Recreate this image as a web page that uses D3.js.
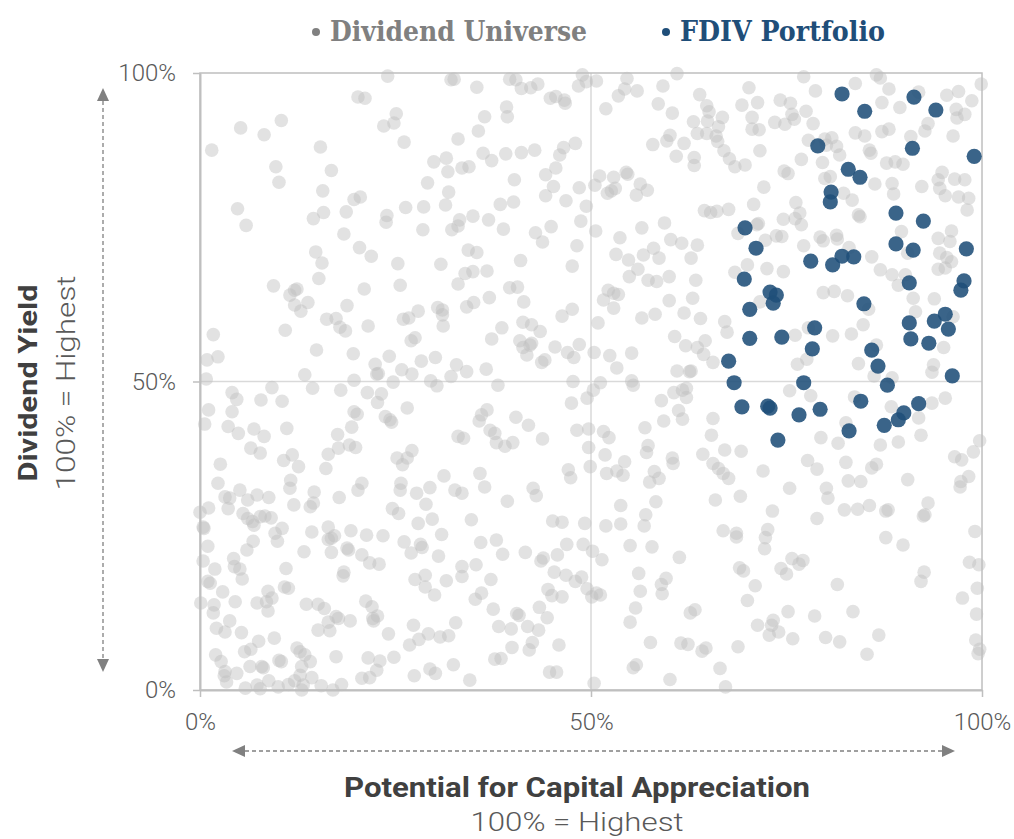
<!DOCTYPE html>
<html><head><meta charset="utf-8">
<script src="https://cdn.jsdelivr.net/npm/d3@7"></script>
<style>html,body{margin:0;padding:0;background:#fff;}</style>
</head><body><div id="chart"></div>
<script>
// ---- data (percentile scores, 0-100) ----
const legendLabels = ["Dividend Universe", "FDIV Portfolio"];
const xTitle = "Potential for Capital Appreciation";
const yTitle = "Dividend Yield";
const subTitle = "100% = Highest";
const tickValues = [0, 50, 100];

// FDIV Portfolio holdings [capital appreciation %, dividend yield %]
const fdiv = [[82.1,96.6],[91.3,96.1],[94.1,94.0],[85.0,93.8],[79.0,88.2],[91.1,87.8],[99.0,86.5],[82.9,84.4],[84.4,83.1],[80.7,80.7],[80.6,79.1],[89.0,77.3],[92.5,76.0],[69.7,74.9],[71.1,71.6],[78.1,69.5],[82.1,70.3],[83.6,70.2],[80.9,68.9],[89.0,72.3],[91.2,71.3],[98.0,71.5],[69.6,66.6],[72.9,64.5],[73.7,64.0],[73.3,62.7],[84.9,62.6],[90.7,66.0],[97.7,66.3],[97.3,64.8],[70.3,61.7],[95.3,60.9],[90.7,59.5],[93.9,59.8],[95.7,58.5],[78.6,58.7],[70.3,57.0],[74.4,57.2],[90.9,56.9],[93.2,56.2],[85.9,55.1],[67.6,53.3],[78.3,55.3],[86.7,52.5],[96.2,50.9],[68.3,49.8],[77.2,49.8],[87.9,49.4],[69.3,45.9],[72.6,46.0],[72.9,45.7],[76.6,44.6],[79.3,45.5],[84.5,46.8],[91.9,46.4],[90.0,44.9],[89.3,43.8],[87.5,42.9],[83.0,42.0],[73.9,40.5]];

// Dividend Universe [capital appreciation %, dividend yield %]
const universe = [
[24.0,99.5],[32.1,98.9],[32.5,99.0],[20.2,96.1],[21.1,95.9],[25.1,93.4],[23.5,91.4],[24.8,91.9],[10.4,92.3],[5.2,91.1],[8.2,90.0],[26.1,88.8],[33.0,89.3],[1.5,87.5],[15.4,88.0],[29.9,85.6],[31.5,86.2],[31.7,84.0],[33.5,84.6],[9.7,84.8],[16.8,84.2],[10.1,82.3],[29.1,82.2],[15.7,80.9],[31.8,80.7],[19.7,79.5],[20.5,79.9],[4.8,78.0],[26.3,78.2],[28.6,78.3],[31.4,78.6],[5.9,75.3],[14.5,76.4],[15.8,77.4],[18.7,77.5],[23.9,76.9],[23.8,75.8],[28.5,74.6],[32.2,74.6],[33.0,75.2],[33.2,76.2],[18.4,73.9],[14.8,71.0],[20.4,71.7],[21.9,70.3],[15.6,69.2],[25.3,69.1],[30.8,69.0],
[34.4,84.8],[34.3,71.3],[35.4,70.9],[33.9,67.5],[34.9,67.8],[36.7,67.9],[35.4,97.7],[39.6,99.0],[40.4,98.9],[41.1,97.5],[42.3,97.6],[43.2,98.2],[44.8,95.9],[45.5,96.2],[46.6,95.6],[46.7,95.1],[48.9,99.7],[48.4,97.9],[49.4,98.6],[50.7,98.7],[39.2,94.5],[39.3,92.9],[36.4,92.9],[35.6,90.6],[36.2,87.0],[37.3,85.8],[39.1,86.9],[41.1,87.1],[42.8,87.5],[46.5,87.9],[48.0,88.6],[46.0,86.7],[45.5,84.6],[44.2,83.5],[45.2,81.6],[44.2,80.1],[40.2,82.7],[38.4,78.7],[40.1,79.1],[48.5,81.4],[46.8,79.3],[49.4,78.4],[48.7,76.0],[34.9,76.8],[36.9,76.2],[38.8,74.7],[42.9,74.1],[43.8,72.6],[44.9,75.1],[48.2,72.0],[41.0,69.6],[47.6,68.7],
[54.6,99.1],[54.3,97.4],[53.5,96.3],[55.9,97.1],[61.0,99.9],[59.2,97.9],[51.9,94.2],[58.6,95.0],[60.4,93.5],[63.9,96.5],[64.8,94.7],[65.1,93.7],[64.9,92.2],[63.1,92.1],[63.6,90.2],[64.8,90.2],[66.0,89.8],[66.3,91.3],[66.8,92.8],[66.2,88.9],[67.0,87.4],[67.7,86.1],[57.9,88.4],[59.7,89.0],[60.1,89.9],[61.9,88.6],[60.9,86.5],[63.2,86.3],[63.2,85.0],[51.1,83.3],[50.5,81.8],[52.9,83.1],[54.5,83.9],[54.7,83.6],[52.1,80.5],[52.6,80.9],[53.1,81.3],[56.3,82.0],[57.2,81.0],[55.8,80.2],[50.6,74.4],[64.5,77.7],[65.3,77.4],[66.1,77.6],[67.6,77.9],[59.4,75.7],[56.5,74.9],[53.7,73.3],[60.2,73.0],[61.6,72.4],[63.6,72.1],[58.0,71.6],[58.7,70.0],[56.7,70.5],[54.8,69.7],[53.2,70.6],[62.8,70.0],[56.0,68.2],
[77.2,99.4],[86.5,99.7],[87.0,99.2],[83.8,98.3],[78.7,97.1],[70.2,97.6],[88.1,97.4],[91.9,96.9],[95.5,96.4],[97.0,97.0],[99.9,98.2],[98.7,95.5],[69.3,94.8],[71.3,95.2],[74.2,95.6],[75.5,95.1],[75.7,93.3],[76.0,92.5],[74.8,91.7],[73.5,92.0],[77.5,93.8],[78.4,91.8],[70.6,92.8],[70.6,90.9],[71.5,90.8],[87.2,95.2],[89.5,94.4],[96.7,94.1],[97.8,93.3],[96.8,92.7],[93.1,91.8],[92.7,90.6],[87.2,90.5],[88.1,90.9],[83.8,90.3],[85.0,89.8],[96.3,89.8],[90.9,89.7],[77.8,89.1],[79.9,89.3],[80.8,89.5],[81.4,88.1],[81.8,86.7],[80.1,88.3],[71.6,87.4],[68.4,84.8],[69.7,85.1],[76.9,86.0],[79.6,85.5],[85.6,87.5],[85.8,87.0],[87.8,85.4],[88.9,85.6],[89.9,85.2],[74.7,84.1],[75.2,83.7],[79.9,82.9],[80.6,83.2],[86.3,82.0],[88.5,82.1],[88.7,80.4],[92.3,81.6],[94.4,82.7],[94.9,83.9],[94.6,81.3],[95.3,80.1],[96.5,82.8],[97.8,82.7],[97.0,79.9],[98.3,79.7],[98.1,77.8],[72.1,81.5],[70.8,78.7],[76.2,79.0],[76.7,77.3],[76.1,76.4],[76.9,75.4],[74.6,76.3],[82.3,80.5],[83.4,79.4],[84.2,77.0],[84.4,76.7],[71.4,75.6],[71.2,75.4],[68.8,74.0],[73.7,73.6],[74.4,73.5],[72.3,72.9],[77.2,72.0],[79.3,73.4],[79.7,72.8],[81.4,73.7],[81.5,73.1],[83.0,71.7],[85.9,70.2],[89.7,74.3],[94.4,73.2],[96.1,74.4],[95.9,72.7],[94.6,70.8],[95.5,70.1],[96.1,69.4],[95.3,68.4],[94.4,68.2],[90.5,70.8],[70.0,68.9],[68.4,67.7],[72.5,68.3],[74.6,67.8],[87.0,68.1],[88.5,67.3],[90.2,67.3],
[9.4,65.5],[15.2,66.7],[11.5,64.0],[12.1,64.8],[12.4,65.0],[12.1,62.4],[12.9,61.4],[13.8,62.8],[18.8,62.3],[21.0,65.0],[25.6,65.6],[33.0,65.8],[16.2,60.1],[17.4,60.2],[17.9,58.8],[18.6,58.2],[21.5,59.0],[10.9,58.3],[1.7,57.6],[26.0,60.1],[26.7,60.3],[27.9,61.4],[30.4,62.0],[31.0,61.6],[31.0,60.8],[31.1,59.0],[27.0,56.6],[27.5,57.1],[0.9,53.5],[2.3,54.0],[14.9,55.1],[19.6,54.5],[22.4,52.8],[22.6,51.2],[22.8,51.3],[24.2,54.1],[25.8,51.9],[27.1,51.2],[28.3,53.3],[30.1,53.9],[32.8,52.7],[0.8,50.4],[13.4,51.1],[19.7,50.2],[24.7,49.9],[29.5,50.1],[30.3,49.3],[32.1,50.8],[4.1,48.2],[4.7,47.1],[9.2,49.0],[14.4,48.9],[18.0,48.6],[21.4,48.2],[22.7,46.6],[23.2,48.0],[7.8,47.0],[10.5,46.8],[1.1,45.4],[4.1,45.1],[0.6,43.1],[19.7,45.1],[20.1,44.7],[23.7,44.3],[24.3,43.8],[24.5,43.4],[26.5,45.7],[3.6,42.7],[4.9,41.6],[6.9,42.3],[8.2,41.1],[11.1,42.4],[19.4,42.6],[17.6,41.4],[33.0,41.1],[33.7,40.8],[6.5,39.2],[7.7,38.4],[16.4,38.2],[17.7,39.2],[19.1,39.7],[19.9,39.3],[11.8,38.1],[10.7,37.2],[12.6,36.2],[27.1,38.8],[26.5,37.6],[25.2,37.6],[25.9,36.5],[2.6,36.6],[16.1,35.9],[31.2,34.7],[2.3,33.5],[11.6,34.0],[20.7,33.5],[25.7,33.5],
[35.0,62.8],[34.1,62.1],[37.0,63.6],[39.6,65.2],[40.6,65.3],[41.4,62.9],[38.6,58.7],[37.3,56.9],[41.3,59.6],[42.4,59.2],[43.5,58.1],[40.9,56.6],[41.3,55.5],[41.8,54.3],[42.2,55.9],[42.4,56.2],[43.7,53.1],[44.1,53.5],[45.4,55.6],[46.3,60.6],[47.6,61.7],[47.0,54.7],[47.8,53.9],[48.5,56.0],[34.1,51.6],[36.6,52.0],[38.1,49.4],[47.7,50.0],[49.5,47.3],[50.3,48.6],[51.2,49.8],[47.5,46.5],[50.9,59.5],[50.4,54.7],[51.6,63.2],[52.2,64.8],[52.9,64.3],[53.5,64.1],[52.9,61.9],[54.9,67.0],[57.3,66.4],[58.4,66.2],[60.0,67.0],[63.4,66.4],[56.5,60.3],[58.2,60.9],[60.0,63.1],[63.0,63.5],[61.9,61.1],[64.0,60.2],[67.1,59.7],[67.4,58.0],[60.7,57.3],[62.1,55.8],[63.6,55.5],[64.6,56.6],[64.4,54.4],[65.6,53.1],[52.4,54.2],[53.3,52.2],[55.2,54.6],[61.0,51.7],[62.6,51.6],[62.8,51.7],[55.2,50.1],[55.4,49.4],[60.6,48.2],[61.7,48.6],[62.2,48.9],[62.2,47.4],[59.0,46.9],[61.2,45.3],[61.7,43.9],[59.3,43.6],[36.7,45.4],[36.0,44.6],[35.7,43.6],[40.4,44.2],[42.0,42.9],[37.1,42.1],[37.7,41.6],[37.9,40.1],[39.0,39.5],[40.0,40.1],[43.8,40.7],[48.2,42.1],[49.7,42.3],[51.6,41.9],[52.3,40.9],[56.9,42.5],[57.3,39.6],[57.1,38.5],[60.4,37.6],[60.5,36.7],[65.6,44.0],[65.4,41.3],[67.1,38.9],[64.3,38.2],[49.7,39.3],[51.8,38.1],[54.3,37.0],[53.3,35.5],[54.1,34.8],[52.0,35.1],[49.9,36.2],[47.1,35.7],[47.4,34.4],[35.8,35.1],[58.1,35.4],[58.7,34.3],[57.5,33.7],[65.6,36.7],[66.3,35.9],[66.9,35.1],[67.6,34.3],
[71.6,62.9],[89.3,65.6],[91.2,63.5],[91.5,61.3],[93.9,63.4],[96.3,60.5],[79.7,64.4],[81.1,64.6],[82.8,63.9],[85.5,61.7],[84.8,59.2],[83.3,57.7],[80.9,57.4],[77.8,58.7],[76.1,57.5],[76.4,52.8],[77.6,53.6],[84.2,52.9],[86.5,55.9],[86.2,50.9],[88.5,50.6],[93.8,52.7],[93.6,51.5],[95.1,55.5],[75.4,48.5],[78.1,47.7],[83.7,47.5],[88.4,45.9],[91.9,44.1],[93.6,46.5],[95.3,47.3],[82.6,43.3],[79.4,40.9],[81.6,40.0],[87.0,39.7],[89.3,40.2],[92.2,41.3],[69.2,38.7],[77.7,37.2],[78.9,35.8],[82.6,36.9],[85.9,36.0],[86.5,36.6],[72.0,35.5],[82.9,33.9],[84.5,33.8],[90.5,34.1],[96.5,37.8],[97.4,37.3],[98.9,38.6],[99.7,40.4],[98.3,34.6],[97.3,33.8],[97.2,32.9],[75.4,32.7],[80.1,32.7],
[5.1,32.4],[11.5,32.7],[14.6,32.1],[14.5,30.3],[14.1,29.7],[20.2,32.4],[25.6,32.4],[27.7,31.9],[29.4,32.8],[32.6,32.4],[33.5,31.9],[3.2,31.3],[3.8,31.1],[6.1,30.8],[7.3,31.6],[8.8,31.2],[1.1,29.5],[0.0,28.8],[3.6,29.4],[12.0,30.0],[17.8,31.2],[24.6,29.4],[25.4,28.6],[28.9,30.1],[5.5,28.6],[6.1,27.8],[6.7,27.3],[6.9,26.7],[7.7,28.1],[8.3,28.2],[9.1,27.9],[29.7,27.7],[27.9,27.0],[0.4,26.4],[0.5,26.2],[10.5,26.2],[9.6,25.4],[9.9,24.1],[16.4,26.4],[16.8,24.6],[17.2,25.0],[16.4,24.4],[14.3,25.6],[19.3,25.8],[21.3,25.1],[23.4,25.0],[26.1,24.0],[27.0,22.2],[28.2,23.6],[28.4,23.1],[30.9,25.2],[30.5,21.7],[1.0,23.3],[6.8,24.1],[6.0,22.7],[13.3,22.4],[16.8,22.3],[18.8,23.0],[19.0,22.7],[20.7,21.9],[21.7,20.6],[22.9,20.4],[0.4,20.9],[4.3,21.3],[4.4,20.0],[5.1,19.6],[5.4,18.0],[1.9,19.6],[11.0,19.7],[18.4,19.1],[18.3,18.5],[1.0,17.6],[1.3,17.3],[2.9,15.9],[10.8,16.7],[11.3,16.5],[27.5,17.9],[28.8,18.6],[28.8,16.7],[30.0,15.4],[31.5,17.7],[33.5,20.0],[33.5,18.4],[8.7,16.0],[9.2,14.9],[8.5,14.3],[8.7,12.8],[7.3,14.1],[4.5,14.3],[0.1,14.1],[1.8,13.8],[1.7,12.5],[13.6,13.9],[15.1,13.9],[15.9,13.2],[21.2,14.4],[22.0,13.5],[22.7,12.0],[22.2,11.2],[22.1,11.6],[17.4,11.9],[17.7,11.6],[16.4,11.0],[16.6,9.6],[15.1,9.7],[19.2,11.2],[3.8,11.2],[2.1,10.0],[3.2,9.4],[5.3,9.3],[24.1,9.1],[27.3,10.5],[32.7,10.9],[29.2,9.1],[30.7,8.6],[31.8,8.8],[26.8,7.3],[28.0,8.2],[9.5,8.4],[7.5,7.9],[5.7,6.2],[6.5,6.6],[6.4,3.8],[7.9,3.8],[8.1,3.6],[10.1,4.8],[10.4,4.6],[2.0,5.7],[2.7,4.6],[3.2,3.0],[3.4,1.3],[3.1,2.3],[4.7,2.7],[12.4,6.8],[12.8,6.2],[13.4,5.7],[14.1,4.6],[13.0,3.8],[12.8,2.4],[12.1,1.5],[14.3,2.0],[13.2,0.8],[13.0,0.0],[17.4,5.4],[21.5,5.2],[23.0,4.7],[22.6,3.2],[21.7,2.0],[20.7,1.9],[24.8,5.3],[27.4,2.3],[29.4,3.4],[30.1,2.7],[32.4,4.1],[5.8,0.3],[7.3,0.8],[7.7,0.2],[8.8,1.5],[10.0,0.5],[11.3,0.9],[15.5,0.7],[17.0,0.0],[18.1,0.9],
[36.4,32.9],[42.6,32.7],[43.0,31.5],[39.3,30.6],[34.7,27.6],[45.1,27.4],[46.3,27.2],[49.2,27.0],[35.9,23.9],[37.9,24.3],[38.7,22.0],[41.6,22.3],[43.6,20.9],[43.9,21.4],[45.7,21.9],[46.9,23.6],[49.0,23.6],[50.2,22.5],[51.4,21.1],[35.3,20.3],[37.2,17.9],[45.3,19.1],[46.8,18.6],[48.0,17.6],[48.8,18.3],[44.5,16.3],[45.0,15.3],[46.3,15.1],[49.5,16.4],[50.1,15.1],[51.2,15.4],[50.7,15.7],[36.0,15.7],[35.2,14.7],[37.5,13.1],[40.5,12.4],[40.8,12.1],[43.4,13.4],[44.4,11.7],[38.2,10.3],[39.8,9.9],[41.9,10.3],[43.3,9.7],[42.5,7.7],[42.1,6.5],[39.9,6.9],[45.9,7.3],[37.7,5.0],[38.5,5.1],[34.5,1.6],[44.7,2.9],[45.6,2.9],[50.4,1.1],[51.9,26.6],[53.8,26.9],[53.8,29.9],[56.8,26.6],[57.0,28.4],[58.3,30.5],[55.0,23.4],[57.8,23.2],[61.3,21.5],[56.1,18.9],[56.3,16.0],[55.7,13.3],[55.0,11.0],[59.0,17.1],[59.6,18.1],[59.1,15.6],[62.7,12.5],[63.3,13.0],[57.6,7.7],[61.5,7.6],[62.4,7.4],[64.2,6.3],[64.7,6.8],[55.4,3.6],[55.8,4.1],[60.1,1.7],[65.9,30.8],[66.9,25.8],[66.5,3.5],[67.2,0.5],
[69.1,31.4],[80.3,31.1],[73.2,29.0],[78.9,27.8],[82.4,29.2],[84.1,29.3],[85.6,29.9],[87.7,29.0],[88.0,29.2],[92.5,28.2],[92.7,28.4],[93.1,30.3],[68.6,25.4],[68.6,24.8],[72.6,26.0],[72.3,24.7],[72.2,22.9],[87.7,24.7],[89.9,23.5],[99.1,25.7],[69.0,19.8],[69.5,19.3],[74.3,19.7],[75.0,18.8],[75.7,21.3],[76.6,20.4],[77.1,21.0],[71.0,16.9],[70.0,14.5],[81.5,17.1],[92.6,19.1],[92.2,17.6],[98.4,20.7],[99.6,20.3],[99.4,16.5],[97.5,14.9],[99.3,12.3],[75.2,12.7],[78.6,12.0],[83.5,12.7],[71.3,10.5],[73.3,11.3],[73.1,10.5],[72.8,8.9],[74.0,9.4],[75.8,8.3],[80.0,8.5],[81.8,7.8],[86.8,8.9],[68.8,7.0],[85.3,5.8],[99.2,8.1],[99.7,6.6],[99.5,5.9]
];

// ---- layout ----
const W = 1014, H = 839;
const plot = {left: 200, right: 982, top: 73, bottom: 690};
const grayFill = "#bfbfbf", blueFill = "#1F4E79";
const axisGray = "#bfbfbf", textGray = "#595959", arrowGray = "#808080";

const svg = d3.select("#chart").append("svg").attr("width", W).attr("height", H)
  .style("font-family", "Roboto, 'Liberation Sans', sans-serif");

const x = d3.scaleLinear().domain([0, 100]).range([plot.left, plot.right]);
const y = d3.scaleLinear().domain([0, 100]).range([plot.bottom, plot.top]);

// gridlines at 50%
svg.append("line").attr("x1", x(50)).attr("x2", x(50)).attr("y1", y(0)).attr("y2", y(100))
  .attr("stroke", "#d9d9d9").attr("stroke-width", 1.5);
svg.append("line").attr("x1", x(0)).attr("x2", x(100)).attr("y1", y(50)).attr("y2", y(50))
  .attr("stroke", "#d9d9d9").attr("stroke-width", 1.5);

// frame
svg.append("rect").attr("x", x(0)).attr("y", y(100)).attr("width", x(100) - x(0)).attr("height", y(0) - y(100))
  .attr("fill", "none").attr("stroke", axisGray).attr("stroke-width", 1.5);

// axes
const fmt = d => d + "%";
const yAxis = svg.append("g").attr("transform", `translate(${x(0)},0)`)
  .call(d3.axisLeft(y).tickValues(tickValues).tickFormat(fmt).tickSize(7).tickSizeOuter(0).tickPadding(17));
const xAxis = svg.append("g").attr("transform", `translate(0,${y(0)})`)
  .call(d3.axisBottom(x).tickValues(tickValues).tickFormat(fmt).tickSize(7).tickSizeOuter(0).tickPadding(16));
[xAxis, yAxis].forEach(g => {
  g.select(".domain").attr("stroke", axisGray).attr("stroke-width", 2);
  g.selectAll(".tick line").attr("stroke", axisGray).attr("stroke-width", 1.5);
  g.selectAll(".tick text").attr("fill", textGray).style("font-size", "24px").style("font-weight", 300)
    .style("font-family", "Roboto, sans-serif");
});

// universe dots
svg.append("g").selectAll("circle").data(universe).join("circle")
  .attr("cx", d => x(d[0])).attr("cy", d => y(d[1])).attr("r", 6.8)
  .attr("fill", grayFill).attr("fill-opacity", 0.45);

// FDIV dots
svg.append("g").selectAll("circle").data(fdiv).join("circle")
  .attr("cx", d => x(d[0])).attr("cy", d => y(d[1])).attr("r", 7.6)
  .attr("fill", blueFill).attr("fill-opacity", 0.88);

// legend
const legend = svg.append("g");
const legItems = [
  {label: legendLabels[0], color: "#808080", dotX: 316, textX: 330, len: 257},
  {label: legendLabels[1], color: blueFill, dotX: 666, textX: 680, len: 205}
];
legItems.forEach(it => {
  legend.append("circle").attr("cx", it.dotX).attr("cy", 32).attr("r", 4).attr("fill", it.color);
  legend.append("text").attr("x", it.textX).attr("y", 41).text(it.label)
    .attr("fill", it.color).style("font-family", "'DejaVu Serif', 'Liberation Serif', serif")
    .style("font-stretch", "condensed").style("font-weight", 700).style("font-size", "28px")
    .attr("textLength", it.len).attr("lengthAdjust", "spacingAndGlyphs");
});

// dashed arrows
function arrow(x1, y1, x2, y2) {
  const g = svg.append("g");
  const horiz = y1 === y2;
  const hl = 13, hw = 6;
  if (horiz) {
    g.append("line").attr("x1", x1 + hl).attr("x2", x2 - hl).attr("y1", y1).attr("y2", y2)
      .attr("stroke", arrowGray).attr("stroke-width", 1.3).attr("stroke-dasharray", "4,3");
    g.append("path").attr("d", `M${x1},${y1}L${x1 + hl},${y1 - hw}L${x1 + hl},${y1 + hw}Z`).attr("fill", arrowGray);
    g.append("path").attr("d", `M${x2},${y2}L${x2 - hl},${y2 - hw}L${x2 - hl},${y2 + hw}Z`).attr("fill", arrowGray);
  } else {
    g.append("line").attr("x1", x1).attr("x2", x2).attr("y1", y1 + hl).attr("y2", y2 - hl)
      .attr("stroke", arrowGray).attr("stroke-width", 1.3).attr("stroke-dasharray", "4,3");
    g.append("path").attr("d", `M${x1},${y1}L${x1 - hw},${y1 + hl}L${x1 + hw},${y1 + hl}Z`).attr("fill", arrowGray);
    g.append("path").attr("d", `M${x2},${y2}L${x2 - hw},${y2 - hl}L${x2 + hw},${y2 - hl}Z`).attr("fill", arrowGray);
  }
}
arrow(232, 751, 955, 751);
arrow(103, 88, 103, 672);

// axis titles
const xc = (plot.left + plot.right) / 2 - 14;
svg.append("text").attr("x", xc).attr("y", 797).attr("text-anchor", "middle").text(xTitle)
  .attr("fill", "#404040").style("font-weight", 700).style("font-size", "27px")
  .attr("textLength", 466).attr("lengthAdjust", "spacingAndGlyphs");
svg.append("text").attr("x", xc).attr("y", 831).attr("text-anchor", "middle").text(subTitle)
  .attr("fill", textGray).style("font-weight", 300).style("font-size", "25px")
  .attr("textLength", 213).attr("lengthAdjust", "spacingAndGlyphs");

const yc = 383;
svg.append("text").attr("transform", `translate(37,${yc}) rotate(-90)`).attr("text-anchor", "middle").text(yTitle)
  .attr("fill", "#404040").style("font-weight", 700).style("font-size", "26px")
  .attr("textLength", 197).attr("lengthAdjust", "spacingAndGlyphs");
svg.append("text").attr("transform", `translate(75,${yc}) rotate(-90)`).attr("text-anchor", "middle").text(subTitle)
  .attr("fill", textGray).style("font-weight", 300).style("font-size", "26px")
  .attr("textLength", 215).attr("lengthAdjust", "spacingAndGlyphs");
</script></body></html>
